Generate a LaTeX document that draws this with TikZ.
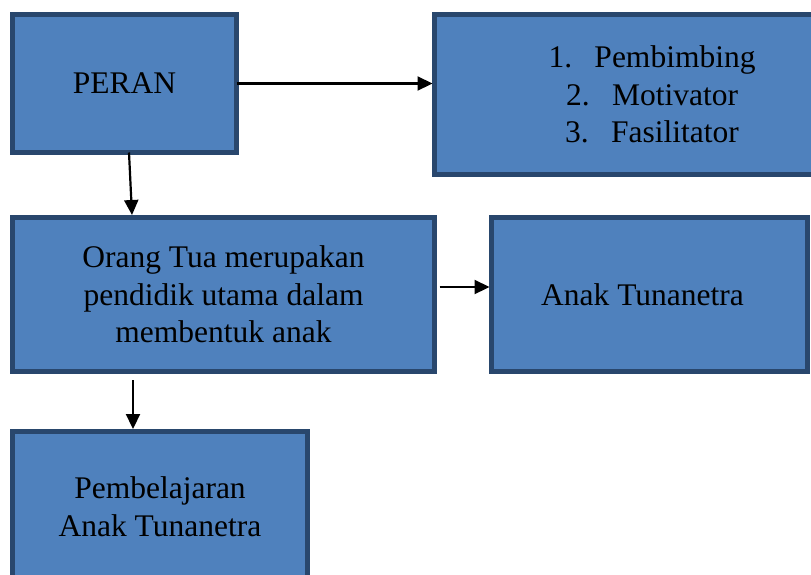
\documentclass[tikz,border=0pt]{standalone}
\usepackage{fontspec}
\setmainfont{Liberation Serif}
\usetikzlibrary{arrows.meta}
\definecolor{boxfill}{HTML}{4F81BD}
\definecolor{boxline}{HTML}{29476D}
\begin{document}
\begin{tikzpicture}[x=1pt,y=-1pt,
  box/.style={draw=boxline,fill=boxfill,line width=5pt,inner sep=0pt,outer sep=0pt,
    align=center,font=\fontsize{31.5}{37.5}\selectfont},
  arr/.style={line width=2.2pt,-{Triangle[length=15pt,width=14pt]}}]
\useasboundingbox (0,0) rectangle (811,574);
\clip (0,0) rectangle (811,574);
\node[box,minimum width=224pt,minimum height=138pt] (peran) at (124.5,83.5) {PERAN};
\node[box,minimum width=435pt,minimum height=160pt] (list) at (652,94.5)
  {\makebox[46pt][l]{1.}Pembimbing\\\makebox[46pt][l]{2.}Motivator\\\makebox[46pt][l]{3.}Fasilitator};
\node[box,minimum width=422pt,minimum height=154pt] (orang) at (223.5,294.5)
  {Orang Tua merupakan\\pendidik utama dalam\\membentuk anak};
\node[box,minimum width=316pt,minimum height=154pt] (anak) at (649.5,294.5) {\hspace*{-14pt}Anak Tunanetra};
\node[box,minimum width=295pt,minimum height=150pt] (pemb) at (160,506.5)
  {Pembelajaran\\Anak Tunanetra};
\draw[arr] (peran.east) -- ([xshift=-2pt]list.west |- peran.east);
\draw[arr] ([xshift=4.5pt]peran.south) -- ([xshift=-91.5pt,yshift=2.5pt]orang.north);
\draw[arr] ([xshift=5pt,yshift=7.5pt]orang.east) -- ([xshift=-2pt,yshift=7.5pt]anak.west);
\draw[arr] ([xshift=-90.5pt,yshift=-8.5pt]orang.south) -- ([xshift=-27pt,yshift=2.5pt]pemb.north);
\end{tikzpicture}
\end{document}
